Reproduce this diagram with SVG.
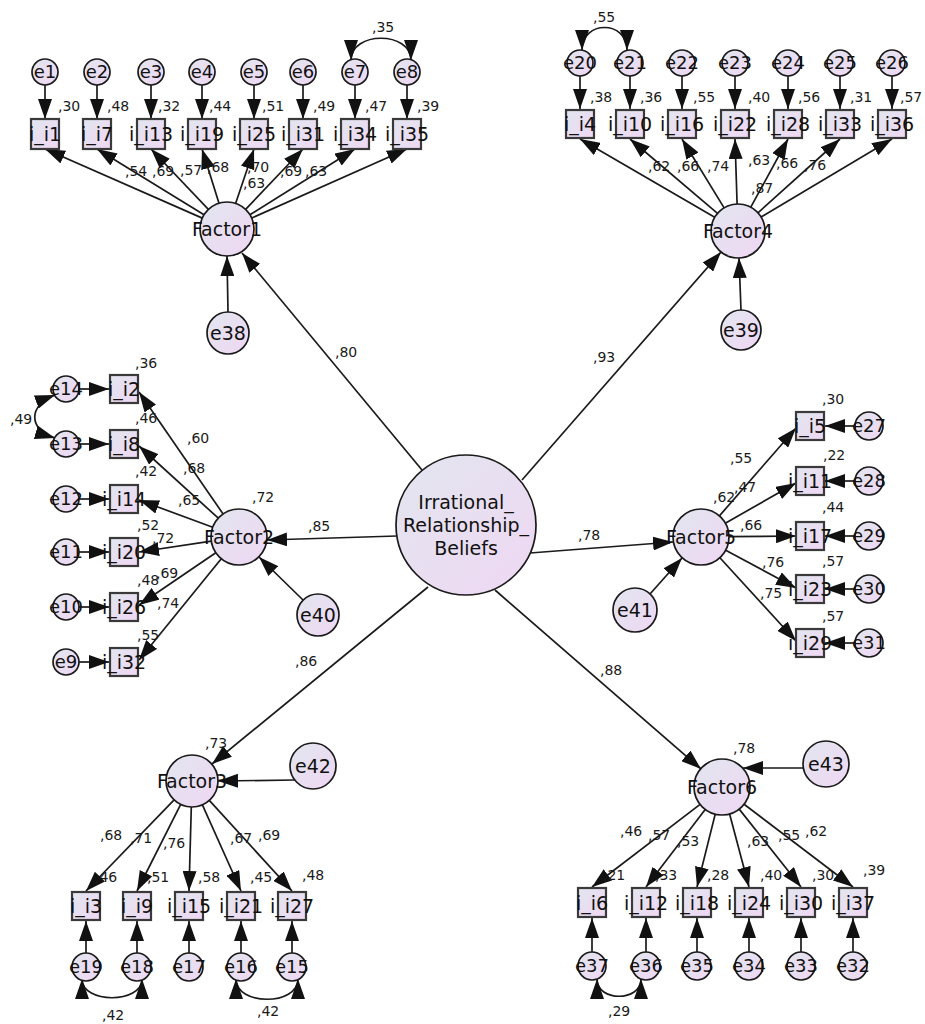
<svg xmlns="http://www.w3.org/2000/svg" width="925" height="1024" viewBox="0 0 925 1024">
<defs>
<linearGradient id="g" x1="0" y1="0" x2="1" y2="1">
<stop offset="0" stop-color="#e2e6ef"/>
<stop offset="1" stop-color="#efd7f3"/>
</linearGradient>
<marker id="ah" viewBox="0 0 20 14" refX="20" refY="7" markerWidth="20" markerHeight="14" markerUnits="userSpaceOnUse" orient="auto-start-reverse">
<path d="M0,0 L20,7 L0,14 z" fill="#111"/>
</marker>
<style>
.n{fill:url(#g);stroke:#1a1a1a;stroke-width:1.7}
.b{fill:url(#g);stroke:#3a3a3a;stroke-width:2.2}
.t{font-family:"DejaVu Sans","Liberation Sans",sans-serif;font-size:19px;fill:#111;text-anchor:middle}
.s{font-size:18px}
.v{font-family:"DejaVu Sans","Liberation Sans",sans-serif;font-size:14px;fill:#1a1a1a}
#connectors path{stroke:#1a1a1a;stroke-width:1.7;fill:none;marker-end:url(#ah)}
#connectors path.cv{marker-start:url(#ah)}
</style>
</defs>
<rect width="925" height="1024" fill="#fff"/>

<g id="connectors">
<path d="M422,470 L242,253"/>
<path d="M522,480 L721,252"/>
<path d="M397,536 L267,540"/>
<path d="M530,553 L673,542"/>
<path d="M428,587 L212,764"/>
<path d="M495,590 L701,769"/>
<path d="M228,312 L227,256"/>
<path d="M741,310 L739,258"/>
<path d="M303,600 L259,557"/>
<path d="M650,594 L682,558"/>
<path d="M295,780 L218,781"/>
<path d="M803,768 L743,768"/>
<path d="M202.3,218.1 L45,149"/>
<path d="M204,214.8 L97,149"/>
<path d="M208.4,209.4 L151,149"/>
<path d="M219,203.2 L202,149"/>
<path d="M235.6,203.4 L254,149"/>
<path d="M245.6,209.4 L303,149"/>
<path d="M249.9,214.7 L355,149"/>
<path d="M251.7,218 L407,149"/>
<path d="M45,85 L45,119"/>
<path d="M97,85 L97,119"/>
<path d="M151,85 L151,119"/>
<path d="M202,85 L202,119"/>
<path d="M254,85 L254,119"/>
<path d="M303,85 L303,119"/>
<path d="M355,85 L355,119"/>
<path d="M407,85 L407,119"/>
<path class="cv" d="M351,60 C351,31 411,31 411,60"/>
<path d="M714.7,217.3 L580,139"/>
<path d="M717.5,213.4 L630,139"/>
<path d="M724.1,207.9 L682,139"/>
<path d="M737.1,204 L735,139"/>
<path d="M750.8,207.2 L788,139"/>
<path d="M758,212.8 L840,139"/>
<path d="M761.1,217 L892,139"/>
<path d="M580,76 L580,109"/>
<path d="M630,76 L630,109"/>
<path d="M682,76 L682,109"/>
<path d="M735,76 L735,109"/>
<path d="M788,76 L788,109"/>
<path d="M840,76 L840,109"/>
<path d="M892,76 L892,109"/>
<path class="cv" d="M582,50 C582,20 627,20 627,50"/>
<path d="M223.1,514 L139,392"/>
<path d="M218.3,518.2 L139,446"/>
<path d="M212.7,527.3 L139,500"/>
<path d="M211.3,541.2 L139,552"/>
<path d="M215.8,552.7 L139,605"/>
<path d="M221.3,558.7 L139,660"/>
<path d="M79,389 L109,389"/>
<path d="M79,444 L109,444"/>
<path d="M79,499 L109,499"/>
<path d="M79,552 L109,552"/>
<path d="M79,607 L109,607"/>
<path d="M79,662 L109,662"/>
<path class="cv" d="M55,395 C28,405 28,430 55,438"/>
<path d="M719.4,515.9 L796,428"/>
<path d="M725.3,523.2 L796,483"/>
<path d="M729,536.7 L796,536"/>
<path d="M725.7,550.2 L796,588"/>
<path d="M719.9,557.7 L796,641"/>
<path d="M855,426 L825,426"/>
<path d="M855,481 L825,481"/>
<path d="M855,536 L825,536"/>
<path d="M855,589 L825,589"/>
<path d="M855,643 L825,643"/>
<path d="M174.1,799.9 L86,891"/>
<path d="M180.7,804.4 L137,891"/>
<path d="M191.3,807 L189,891"/>
<path d="M202.4,804.8 L241,891"/>
<path d="M209.3,800.4 L292,891"/>
<path d="M86,953 L86,921"/>
<path d="M137,953 L137,921"/>
<path d="M189,953 L189,921"/>
<path d="M241,953 L241,921"/>
<path d="M292,953 L292,921"/>
<path class="cv" d="M82,979 C82,1004 142,1004 142,979"/>
<path class="cv" d="M236,979 C236,1006 298,1006 298,979"/>
<path d="M700.1,804.4 L592,887"/>
<path d="M705.2,809.4 L646,887"/>
<path d="M715.2,814.2 L697,887"/>
<path d="M729.6,814 L749,887"/>
<path d="M739.2,809.1 L801,887"/>
<path d="M744.1,804.2 L853,887"/>
<path d="M592,952 L592,918"/>
<path d="M646,952 L646,918"/>
<path d="M697,952 L697,918"/>
<path d="M749,952 L749,918"/>
<path d="M801,952 L801,918"/>
<path d="M853,952 L853,918"/>
<path class="cv" d="M597,979 C597,1002 641,1002 641,979"/>
</g>

<g id="IRB"><circle class="n" cx="466" cy="525" r="70"/>
<text class="t" x="466" y="509">Irrational_</text>
<text class="t" x="466" y="532">Relationship_</text>
<text class="t" x="466" y="555">Beliefs</text></g>

<g id="Factor1"><circle class="n" cx="227" cy="229" r="27"/><text class="t" x="227" y="236">Factor1</text></g>
<g id="Factor2"><circle class="n" cx="239" cy="537" r="28"/><text class="t" x="239" y="544">Factor2</text></g>
<g id="Factor3"><circle class="n" cx="192" cy="781" r="26"/><text class="t" x="192" y="788">Factor3</text></g>
<g id="Factor4"><circle class="n" cx="738" cy="231" r="27"/><text class="t" x="738" y="238">Factor4</text></g>
<g id="Factor5"><circle class="n" cx="701" cy="537" r="28"/><text class="t" x="701" y="544">Factor5</text></g>
<g id="Factor6"><circle class="n" cx="722" cy="787" r="28"/><text class="t" x="722" y="794">Factor6</text></g>

<g id="e38"><circle class="n" cx="228" cy="333" r="21"/><text class="t" x="228" y="340">e38</text></g>
<g id="e39"><circle class="n" cx="741" cy="330" r="20"/><text class="t" x="741" y="337">e39</text></g>
<g id="e40"><circle class="n" cx="318" cy="615" r="21"/><text class="t" x="318" y="622">e40</text></g>
<g id="e41"><circle class="n" cx="635" cy="610" r="22"/><text class="t" x="635" y="617">e41</text></g>
<g id="e42"><circle class="n" cx="313" cy="766" r="23"/><text class="t" x="313" y="773">e42</text></g>
<g id="e43"><circle class="n" cx="826" cy="764" r="23"/><text class="t" x="826" y="771">e43</text></g>

<g id="i_i1"><rect class="b" x="31" y="119" width="28" height="30"/><text class="t" x="45" y="141">i_i1</text></g>
<g id="i_i7"><rect class="b" x="83" y="119" width="28" height="30"/><text class="t" x="97" y="141">i_i7</text></g>
<g id="i_i13"><rect class="b" x="137" y="119" width="28" height="30"/><text class="t" x="151" y="141">i_i13</text></g>
<g id="i_i19"><rect class="b" x="188" y="119" width="28" height="30"/><text class="t" x="202" y="141">i_i19</text></g>
<g id="i_i25"><rect class="b" x="240" y="119" width="28" height="30"/><text class="t" x="254" y="141">i_i25</text></g>
<g id="i_i31"><rect class="b" x="289" y="119" width="28" height="30"/><text class="t" x="303" y="141">i_i31</text></g>
<g id="i_i34"><rect class="b" x="341" y="119" width="28" height="30"/><text class="t" x="355" y="141">i_i34</text></g>
<g id="i_i35"><rect class="b" x="393" y="119" width="28" height="30"/><text class="t" x="407" y="141">i_i35</text></g>
<g id="e1"><circle class="n" cx="45" cy="72" r="13"/><text class="t s" x="45" y="78">e1</text></g>
<g id="e2"><circle class="n" cx="97" cy="72" r="13"/><text class="t s" x="97" y="78">e2</text></g>
<g id="e3"><circle class="n" cx="151" cy="72" r="13"/><text class="t s" x="151" y="78">e3</text></g>
<g id="e4"><circle class="n" cx="202" cy="72" r="13"/><text class="t s" x="202" y="78">e4</text></g>
<g id="e5"><circle class="n" cx="254" cy="72" r="13"/><text class="t s" x="254" y="78">e5</text></g>
<g id="e6"><circle class="n" cx="303" cy="72" r="13"/><text class="t s" x="303" y="78">e6</text></g>
<g id="e7"><circle class="n" cx="355" cy="72" r="13"/><text class="t s" x="355" y="78">e7</text></g>
<g id="e8"><circle class="n" cx="407" cy="72" r="13"/><text class="t s" x="407" y="78">e8</text></g>

<g id="i_i4"><rect class="b" x="566" y="110" width="28" height="28"/><text class="t" x="580" y="131">i_i4</text></g>
<g id="i_i10"><rect class="b" x="616" y="110" width="28" height="28"/><text class="t" x="630" y="131">i_i10</text></g>
<g id="i_i16"><rect class="b" x="668" y="110" width="28" height="28"/><text class="t" x="682" y="131">i_i16</text></g>
<g id="i_i22"><rect class="b" x="721" y="110" width="28" height="28"/><text class="t" x="735" y="131">i_i22</text></g>
<g id="i_i28"><rect class="b" x="774" y="110" width="28" height="28"/><text class="t" x="788" y="131">i_i28</text></g>
<g id="i_i33"><rect class="b" x="826" y="110" width="28" height="28"/><text class="t" x="840" y="131">i_i33</text></g>
<g id="i_i36"><rect class="b" x="878" y="110" width="28" height="28"/><text class="t" x="892" y="131">i_i36</text></g>
<g id="e20"><circle class="n" cx="580" cy="63" r="13"/><text class="t s" x="580" y="69">e20</text></g>
<g id="e21"><circle class="n" cx="630" cy="63" r="13"/><text class="t s" x="630" y="69">e21</text></g>
<g id="e22"><circle class="n" cx="682" cy="63" r="13"/><text class="t s" x="682" y="69">e22</text></g>
<g id="e23"><circle class="n" cx="735" cy="63" r="13"/><text class="t s" x="735" y="69">e23</text></g>
<g id="e24"><circle class="n" cx="788" cy="63" r="13"/><text class="t s" x="788" y="69">e24</text></g>
<g id="e25"><circle class="n" cx="840" cy="63" r="13"/><text class="t s" x="840" y="69">e25</text></g>
<g id="e26"><circle class="n" cx="892" cy="63" r="13"/><text class="t s" x="892" y="69">e26</text></g>

<g id="i_i2"><rect class="b" x="110" y="375" width="28" height="28"/><text class="t" x="124" y="396">i_i2</text></g>
<g id="i_i8"><rect class="b" x="110" y="430" width="28" height="28"/><text class="t" x="124" y="451">i_i8</text></g>
<g id="i_i14"><rect class="b" x="110" y="485" width="28" height="28"/><text class="t" x="124" y="506">i_i14</text></g>
<g id="i_i20"><rect class="b" x="110" y="538" width="28" height="28"/><text class="t" x="124" y="559">i_i20</text></g>
<g id="i_i26"><rect class="b" x="110" y="593" width="28" height="28"/><text class="t" x="124" y="614">i_i26</text></g>
<g id="i_i32"><rect class="b" x="110" y="648" width="28" height="28"/><text class="t" x="124" y="669">i_i32</text></g>
<g id="e14"><circle class="n" cx="66" cy="389" r="13"/><text class="t s" x="66" y="395">e14</text></g>
<g id="e13"><circle class="n" cx="66" cy="444" r="13"/><text class="t s" x="66" y="450">e13</text></g>
<g id="e12"><circle class="n" cx="66" cy="499" r="13"/><text class="t s" x="66" y="505">e12</text></g>
<g id="e11"><circle class="n" cx="66" cy="552" r="13"/><text class="t s" x="66" y="558">e11</text></g>
<g id="e10"><circle class="n" cx="66" cy="607" r="13"/><text class="t s" x="66" y="613">e10</text></g>
<g id="e9"><circle class="n" cx="66" cy="662" r="13"/><text class="t s" x="66" y="668">e9</text></g>

<g id="i_i5"><rect class="b" x="796" y="412" width="28" height="28"/><text class="t" x="810" y="433">i_i5</text></g>
<g id="i_i11"><rect class="b" x="796" y="467" width="28" height="28"/><text class="t" x="810" y="488">i_i11</text></g>
<g id="i_i17"><rect class="b" x="796" y="522" width="28" height="28"/><text class="t" x="810" y="543">i_i17</text></g>
<g id="i_i23"><rect class="b" x="796" y="575" width="28" height="28"/><text class="t" x="810" y="596">i_i23</text></g>
<g id="i_i29"><rect class="b" x="796" y="629" width="28" height="28"/><text class="t" x="810" y="650">i_i29</text></g>
<g id="e27"><circle class="n" cx="869" cy="426" r="14"/><text class="t s" x="869" y="432">e27</text></g>
<g id="e28"><circle class="n" cx="869" cy="481" r="14"/><text class="t s" x="869" y="487">e28</text></g>
<g id="e29"><circle class="n" cx="869" cy="536" r="14"/><text class="t s" x="869" y="542">e29</text></g>
<g id="e30"><circle class="n" cx="869" cy="589" r="14"/><text class="t s" x="869" y="595">e30</text></g>
<g id="e31"><circle class="n" cx="869" cy="643" r="14"/><text class="t s" x="869" y="649">e31</text></g>

<g id="i_i3"><rect class="b" x="72" y="892" width="28" height="28"/><text class="t" x="86" y="913">i_i3</text></g>
<g id="i_i9"><rect class="b" x="123" y="892" width="28" height="28"/><text class="t" x="137" y="913">i_i9</text></g>
<g id="i_i15"><rect class="b" x="175" y="892" width="28" height="28"/><text class="t" x="189" y="913">i_i15</text></g>
<g id="i_i21"><rect class="b" x="227" y="892" width="28" height="28"/><text class="t" x="241" y="913">i_i21</text></g>
<g id="i_i27"><rect class="b" x="278" y="892" width="28" height="28"/><text class="t" x="292" y="913">i_i27</text></g>
<g id="e19"><circle class="n" cx="86" cy="967" r="14"/><text class="t s" x="86" y="973">e19</text></g>
<g id="e18"><circle class="n" cx="137" cy="967" r="14"/><text class="t s" x="137" y="973">e18</text></g>
<g id="e17"><circle class="n" cx="189" cy="967" r="14"/><text class="t s" x="189" y="973">e17</text></g>
<g id="e16"><circle class="n" cx="241" cy="967" r="14"/><text class="t s" x="241" y="973">e16</text></g>
<g id="e15"><circle class="n" cx="292" cy="967" r="14"/><text class="t s" x="292" y="973">e15</text></g>

<g id="i_i6"><rect class="b" x="578" y="888" width="28" height="29"/><text class="t" x="592" y="910">i_i6</text></g>
<g id="i_i12"><rect class="b" x="632" y="888" width="28" height="29"/><text class="t" x="646" y="910">i_i12</text></g>
<g id="i_i18"><rect class="b" x="683" y="888" width="28" height="29"/><text class="t" x="697" y="910">i_i18</text></g>
<g id="i_i24"><rect class="b" x="735" y="888" width="28" height="29"/><text class="t" x="749" y="910">i_i24</text></g>
<g id="i_i30"><rect class="b" x="787" y="888" width="28" height="29"/><text class="t" x="801" y="910">i_i30</text></g>
<g id="i_i37"><rect class="b" x="839" y="888" width="28" height="29"/><text class="t" x="853" y="910">i_i37</text></g>
<g id="e37"><circle class="n" cx="592" cy="966" r="14"/><text class="t s" x="592" y="972">e37</text></g>
<g id="e36"><circle class="n" cx="646" cy="966" r="14"/><text class="t s" x="646" y="972">e36</text></g>
<g id="e35"><circle class="n" cx="697" cy="966" r="14"/><text class="t s" x="697" y="972">e35</text></g>
<g id="e34"><circle class="n" cx="749" cy="966" r="14"/><text class="t s" x="749" y="972">e34</text></g>
<g id="e33"><circle class="n" cx="801" cy="966" r="14"/><text class="t s" x="801" y="972">e33</text></g>
<g id="e32"><circle class="n" cx="853" cy="966" r="14"/><text class="t s" x="853" y="972">e32</text></g>

<g id="values" class="v">
<text x="335" y="357">,80</text>
<text x="593" y="362">,93</text>
<text x="308" y="531">,85</text>
<text x="252" y="502">,72</text>
<text x="578" y="540">,78</text>
<text x="295" y="666">,86</text>
<text x="205" y="748">,73</text>
<text x="600" y="675">,88</text>
<text x="733" y="753">,78</text>
<text x="58" y="111">,30</text>
<text x="107" y="111">,48</text>
<text x="158" y="111">,32</text>
<text x="209" y="111">,44</text>
<text x="262" y="111">,51</text>
<text x="313" y="111">,49</text>
<text x="365" y="111">,47</text>
<text x="417" y="111">,39</text>
<text x="372" y="32">,35</text>
<text x="125" y="176">,54</text>
<text x="152" y="176">,69</text>
<text x="180" y="175">,57</text>
<text x="207" y="172">,68</text>
<text x="247" y="172">,70</text>
<text x="243" y="188">,63</text>
<text x="280" y="176">,69</text>
<text x="305" y="176">,63</text>
<text x="590" y="102">,38</text>
<text x="640" y="102">,36</text>
<text x="693" y="102">,55</text>
<text x="748" y="102">,40</text>
<text x="798" y="102">,56</text>
<text x="850" y="102">,31</text>
<text x="900" y="102">,57</text>
<text x="593" y="22">,55</text>
<text x="648" y="171">,62</text>
<text x="677" y="171">,66</text>
<text x="707" y="171">,74</text>
<text x="748" y="165">,63</text>
<text x="776" y="168">,66</text>
<text x="804" y="170">,76</text>
<text x="751" y="193">,87</text>
<text x="135" y="368">,36</text>
<text x="135" y="423">,46</text>
<text x="135" y="476">,42</text>
<text x="137" y="530">,52</text>
<text x="137" y="585">,48</text>
<text x="137" y="640">,55</text>
<text x="10" y="424">,49</text>
<text x="187" y="443">,60</text>
<text x="183" y="473">,68</text>
<text x="178" y="505">,65</text>
<text x="152" y="543">,72</text>
<text x="156" y="578">,69</text>
<text x="157" y="608">,74</text>
<text x="822" y="404">,30</text>
<text x="823" y="460">,22</text>
<text x="822" y="512">,44</text>
<text x="822" y="566">,57</text>
<text x="822" y="621">,57</text>
<text x="730" y="463">,55</text>
<text x="734" y="492">,47</text>
<text x="713" y="502">,62</text>
<text x="740" y="530">,66</text>
<text x="762" y="567">,76</text>
<text x="760" y="598">,75</text>
<text x="95" y="882">,46</text>
<text x="147" y="882">,51</text>
<text x="198" y="882">,58</text>
<text x="250" y="882">,45</text>
<text x="302" y="880">,48</text>
<text x="100" y="840">,68</text>
<text x="130" y="843">,71</text>
<text x="163" y="848">,76</text>
<text x="230" y="843">,67</text>
<text x="258" y="840">,69</text>
<text x="102" y="1020">,42</text>
<text x="257" y="1016">,42</text>
<text x="603" y="880">,21</text>
<text x="655" y="880">,33</text>
<text x="707" y="880">,28</text>
<text x="760" y="880">,40</text>
<text x="812" y="880">,30</text>
<text x="863" y="875">,39</text>
<text x="620" y="836">,46</text>
<text x="648" y="840">,57</text>
<text x="677" y="846">,53</text>
<text x="747" y="846">,63</text>
<text x="778" y="840">,55</text>
<text x="805" y="836">,62</text>
<text x="608" y="1016">,29</text>
</g>
</svg>
